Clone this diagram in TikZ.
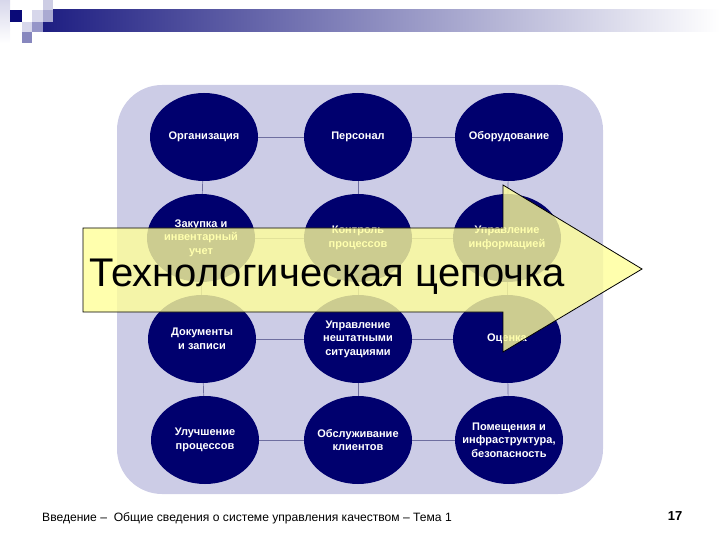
\documentclass[tikz,border=0pt]{standalone}
\usepackage{fontspec}
\setmainfont{Liberation Sans}
\usetikzlibrary{shapes.geometric}
\definecolor{navy}{RGB}{0,0,110}
\definecolor{panel}{RGB}{204,204,230}
\definecolor{linkc}{RGB}{110,110,160}
\definecolor{arrowy}{RGB}{255,255,153}
\definecolor{sqA}{RGB}{205,205,228}
\definecolor{sqB}{RGB}{10,10,120}
\definecolor{sqC}{RGB}{215,215,235}
\definecolor{sqD}{RGB}{170,170,210}
\definecolor{sqF}{RGB}{150,150,200}
\definecolor{sqG}{RGB}{135,135,190}
\definecolor{barstart}{RGB}{30,30,130}
\tikzset{
  blob/.style={ellipse, fill=navy, minimum width=108pt, minimum height=88pt, inner xsep=-12pt, inner ysep=0pt,
    text=white, font=\fontsize{11}{13.5}\selectfont\bfseries, align=center},
  link/.style={draw=linkc, line width=0.7pt},
  chain/.style={fill=arrowy, fill opacity=0.8, draw=black, line width=0.8pt, line join=miter}
}
\begin{document}
\begin{tikzpicture}[x=1pt,y=-1pt]
\useasboundingbox (0,0) rectangle (720,540);
% header
\shade[left color=sqC, right color=white, shading angle=0] (0,0) rectangle (10,43);
\shade[left color=barstart, right color=white] (43,10) rectangle (720,32);
\fill[sqA] (43,0) rectangle (53,10);
\fill[sqB] (10,10) rectangle (22,22);
\fill[sqC] (32,10) rectangle (43,22);
\fill[sqD] (43,10) rectangle (53,22);
\fill[sqC] (22,22) rectangle (32,32);
\fill[sqF] (32,22) rectangle (43,32);
\fill[sqG] (22,32) rectangle (32,43);
% panel
\fill[panel, rounded corners=45pt] (117,85) rectangle (603,494);
% nodes
\node[blob] (n11) at (204,137) {Организация};
\node[blob] (n12) at (358,137) {Персонал};
\node[blob] (n13) at (509,137) {Оборудование};
\node[blob] (n21) at (201,238) {Закупка и\\инвентарный\\учет};
\node[blob] (n22) at (358,238) {Контроль\\процессов};
\node[blob] (n23) at (507,238) {Управление\\информацией};
\node[blob] (n31) at (202,339) {Документы\\и записи};
\node[blob] (n32) at (358,339) {Управление\\нештатными\\ситуациями};
\node[blob] (n33) at (507,339) {Оценка};
\node[blob] (n41) at (205,440) {Улучшение\\процессов};
\node[blob] (n42) at (358,440) {Обслуживание\\клиентов};
\node[blob] (n43) at (509,440) {Помещения и\\инфраструктура,\\безопасность};
% links
\foreach \r in {1,2,3,4}{
  \draw[link] (n\r1) -- (n\r2);
  \draw[link] (n\r2) -- (n\r3);
}
\foreach \c in {1,2,3}{
  \draw[link] (n1\c) -- (n2\c);
  \draw[link] (n2\c) -- (n3\c);
  \draw[link] (n3\c) -- (n4\c);
}
% arrow
\draw[chain] (83,228) -- (503,228) -- (503,185) -- (642,269) -- (503,352) -- (503,312) -- (83,312) -- cycle;
\node[anchor=base west, inner sep=0pt, font=\fontsize{40}{44}\selectfont] (title) at (89,286) {Технологическая цепочка};
% footer
\node[anchor=base west, inner sep=0pt, font=\fontsize{12.1}{14}\selectfont] (foot) at (42,521) {Введение –\ \ Общие сведения о системе управления качеством – Тема 1};
\node[anchor=base, inner sep=0pt, font=\fontsize{13}{15}\selectfont\bfseries] (page) at (675,520) {17};
\end{tikzpicture}
\end{document}
